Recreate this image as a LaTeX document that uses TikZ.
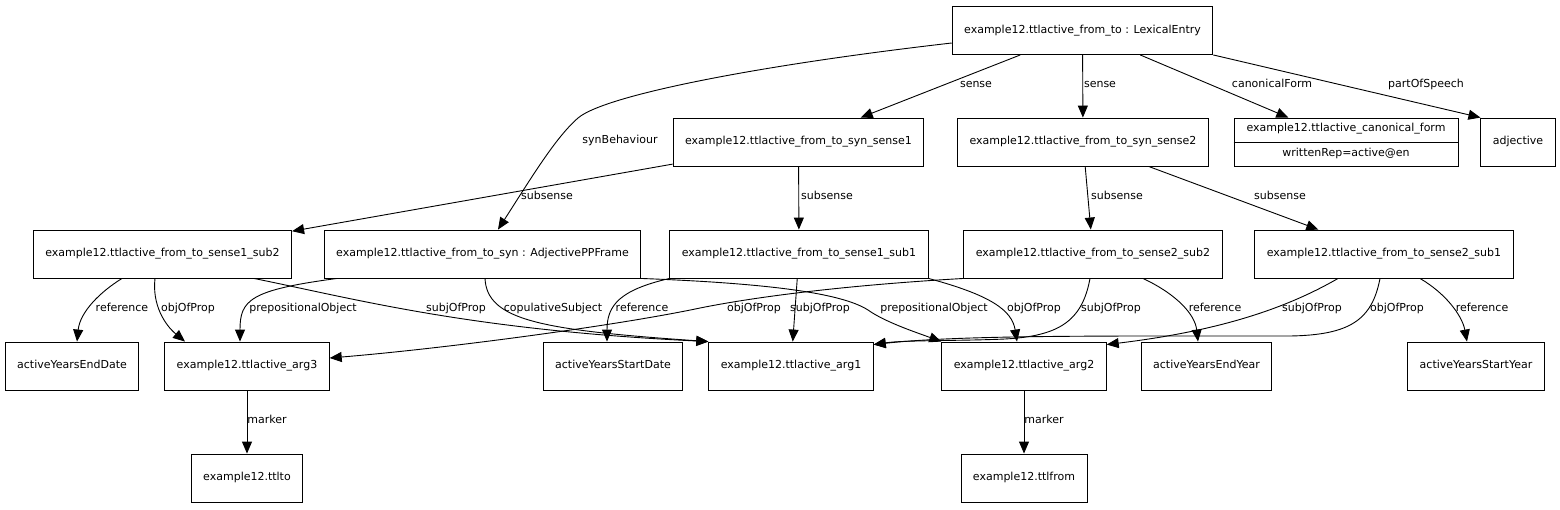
\documentclass[tikz,border=0pt]{standalone}
\usepackage{fontspec}
\setmainfont{DejaVu Sans}
\usetikzlibrary{arrows.meta}

\begin{document}
\begin{tikzpicture}[x=1pt, y=-1pt, >={Triangle[length=12pt,width=10pt]}, line width=0.9pt,
	font=\fontsize{11}{13}\selectfont,
	box/.style={draw, rectangle, minimum height=48pt, inner xsep=12pt, text height=8pt, text depth=2.5pt},
	lbl/.style={inner sep=0pt, text height=8pt, text depth=2.5pt}]

	\useasboundingbox (0,0) rectangle (1560,509);

	% nodes
	\node[box] (entry) at (1082.5,30.5) {example12.ttlactive\_from\_to : LexicalEntry};

	\node[box] (ss1) at (798.5,142) {example12.ttlactive\_from\_to\_syn\_sense1};
	\node[box] (ss2) at (1083,142) {example12.ttlactive\_from\_to\_syn\_sense2};
	\node[box, minimum width=224pt] (canon) at (1346,142) {};
	\node[lbl] (canonname) at (1346,129) {example12.ttlactive\_canonical\_form};
	\node[lbl] (canonrep) at (1346,154) {writtenRep=active@en};
	\draw (canon.west) -- (canon.east);
	\node[box] (adj) at (1518,142) {adjective};

	\node[box] (s1sub2) at (162.5,254) {example12.ttlactive\_from\_to\_sense1\_sub2};
	\node[box] (syn) at (482.5,254) {example12.ttlactive\_from\_to\_syn : AdjectivePPFrame};
	\node[box] (s1sub1) at (799,254) {example12.ttlactive\_from\_to\_sense1\_sub1};
	\node[box] (s2sub2) at (1093,254) {example12.ttlactive\_from\_to\_sense2\_sub2};
	\node[box] (s2sub1) at (1384,254) {example12.ttlactive\_from\_to\_sense2\_sub1};

	\node[box] (enddate) at (72,366) {activeYearsEndDate};
	\node[box] (arg3) at (247,366) {example12.ttlactive\_arg3};
	\node[box] (startdate) at (613,366) {activeYearsStartDate};
	\node[box] (arg1) at (791,366) {example12.ttlactive\_arg1};
	\node[box] (arg2) at (1024,366) {example12.ttlactive\_arg2};
	\node[box] (endyear) at (1206.5,366) {activeYearsEndYear};
	\node[box] (startyear) at (1476,366) {activeYearsStartYear};

	\node[box] (ttlto) at (247,478) {example12.ttlto};
	\node[box] (ttlfrom) at (1024,478) {example12.ttlfrom};

	% straight edges
	\draw[->] (entry) -- (ss1);
	\draw[->] (entry) -- (ss2);
	\draw[->] (entry) -- (canon);
	\draw[->] (entry.south east) -- (adj.north west);
	\draw[->] (ss1) -- (s1sub2);
	\draw[->] (ss1) -- (s1sub1);
	\draw[->] (ss2) -- (s2sub2);
	\draw[->] (ss2) -- (s2sub1);
	\draw[->] (s1sub1) -- (arg1);
	\draw[->] (arg3) -- (ttlto);
	\draw[->] (arg2) -- (ttlfrom);

	% curved edges
	\draw[->] ([yshift=-12.5pt]entry.west) .. controls (760,65) and (605,95) .. (578,118)
		.. controls (555,138) and (530,180) .. ([xshift=15.5pt]syn.north);
	\draw[->] ([xshift=-40.5pt]s1sub2.south) .. controls (100,292) and (80,312) .. ([xshift=5pt]enddate.north);
	\draw[->] ([xshift=-7.5pt]s1sub2.south) .. controls (152,305) and (165,325) .. ([xshift=-62pt]arg3.north);
	\draw[->] ([xshift=91.5pt]s1sub2.south) .. controls (360,300) and (470,330) .. (arg1.north west);
	\draw[->] ([xshift=-145.5pt]syn.south) .. controls (250,290) and (240,300) .. ([xshift=-7pt]arg3.north);
	\draw[->] ([xshift=2.5pt]syn.south) .. controls (487,320) and (540,330) .. (arg1.north west);
	\draw[->] (syn.south east) .. controls (760,283) and (840,292) .. (868,310)
		.. controls (885,322) and (915,332) .. (arg2.north west);
	\draw[->] (s1sub1.south west) .. controls (620,290) and (607,305) .. ([xshift=-6pt]startdate.north);
	\draw[->] (s1sub1.south east) .. controls (990,295) and (1012,310) .. ([xshift=-7pt]arg2.north);
	\draw[->] (s2sub2.south west) .. controls (850,285) and (760,296) .. (700,308)
		.. controls (620,325) and (450,348) .. ([yshift=8pt]arg3.east);
	\draw[->] ([xshift=-3pt]s2sub2.south) .. controls (1082,322) and (1058,336) .. (1005,339)
		.. controls (960,341) and (905,340) .. ([yshift=-3pt]arg1.north east);
	\draw[->] ([xshift=50pt]s2sub2.south) .. controls (1178,295) and (1195,315) .. ([xshift=-8.5pt]endyear.north);
	\draw[->] ([xshift=-46pt]s2sub1.south) .. controls (1280,312) and (1210,332) .. ([yshift=-3pt]arg2.north east);
	\draw[->] ([xshift=-4pt]s2sub1.south) .. controls (1372,320) and (1350,335) .. (1290,336)
		.. controls (1100,336) and (960,335) .. ([yshift=-3pt]arg1.north east);
	\draw[->] ([xshift=36pt]s2sub1.south) .. controls (1445,293) and (1462,315) .. ([xshift=-9pt]startyear.north);

	% edge labels
	\node[lbl] (lsense1) at (976,85) {sense};
	\node[lbl] (lsense2) at (1100,85) {sense};
	\node[lbl] (lcanon) at (1272,85) {canonicalForm};
	\node[lbl] (lpos) at (1426,85) {partOfSpeech};
	\node[lbl] (lsyn) at (620,141) {synBehaviour};
	\node[lbl] (lsub1) at (547,197) {subsense};
	\node[lbl] (lsub2) at (827,197) {subsense};
	\node[lbl] (lsub3) at (1117,197) {subsense};
	\node[lbl] (lsub4) at (1280,197) {subsense};
	\node[lbl] (lref1) at (122,309) {reference};
	\node[lbl] (lobj1) at (188,309) {objOfProp};
	\node[lbl] (lprep1) at (303,309) {prepositionalObject};
	\node[lbl] (lsubj1) at (456,309) {subjOfProp};
	\node[lbl] (lcop) at (553,309) {copulativeSubject};
	\node[lbl] (lref2) at (642,309) {reference};
	\node[lbl] (lobj2) at (754,309) {objOfProp};
	\node[lbl] (lsubj2) at (820,309) {subjOfProp};
	\node[lbl] (lprep2) at (934,309) {prepositionalObject};
	\node[lbl] (lobj3) at (1034,309) {objOfProp};
	\node[lbl] (lsubj3) at (1111,309) {subjOfProp};
	\node[lbl] (lref3) at (1215,309) {reference};
	\node[lbl] (lsubj4) at (1312,309) {subjOfProp};
	\node[lbl] (lobj4) at (1397,309) {objOfProp};
	\node[lbl] (lref4) at (1482,309) {reference};
	\node[lbl] (lmark1) at (267,421) {marker};
	\node[lbl] (lmark2) at (1044,421) {marker};

\end{tikzpicture}
\end{document}
